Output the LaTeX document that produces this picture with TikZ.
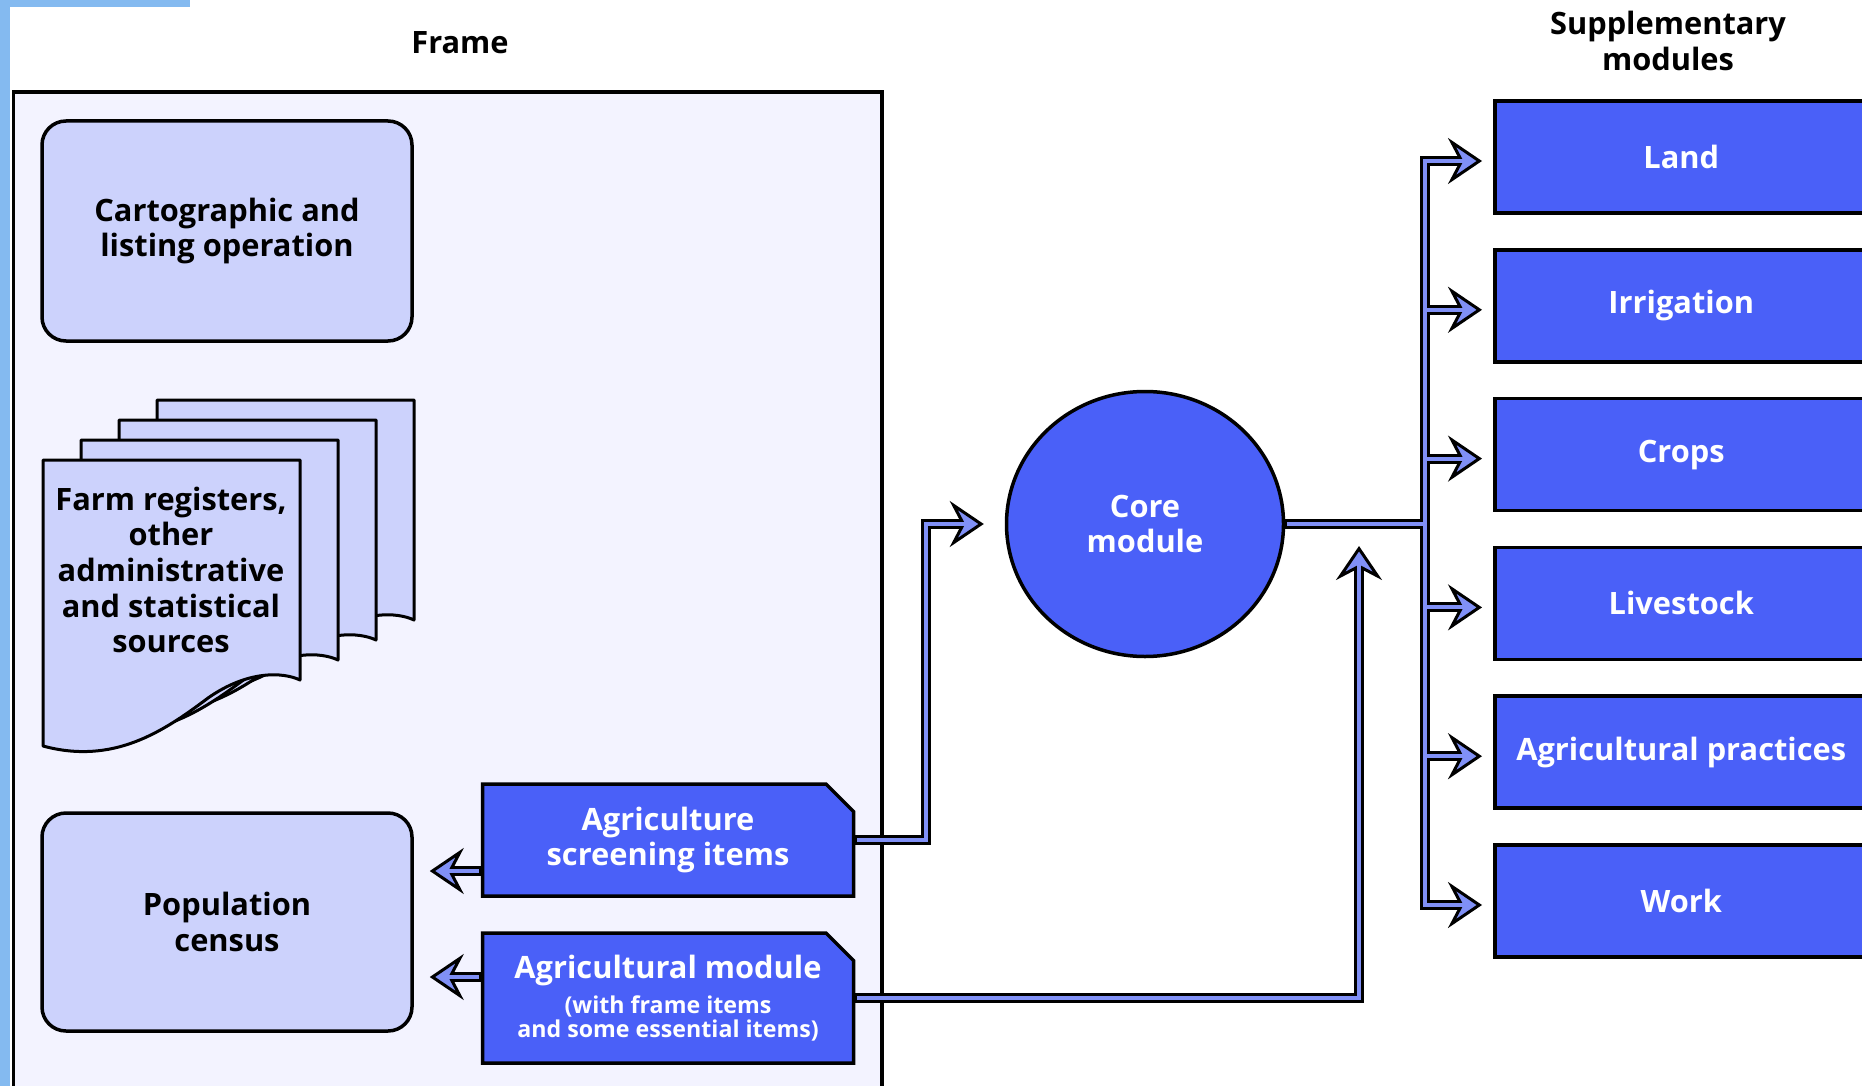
\documentclass[tikz,border=0pt]{standalone}
\usepackage{fontspec}
\setmainfont{Open Sans}
\usetikzlibrary{positioning,calc,shapes.geometric,shapes.misc,arrows.meta}

\definecolor{framebg}{RGB}{243,243,255}
\definecolor{paleblue}{RGB}{204,210,252}
\definecolor{boxblue}{RGB}{74,96,248}
\definecolor{pipeblue}{RGB}{128,144,246}
\definecolor{edgeblue}{RGB}{132,186,240}

\newcommand{\smalltxt}{\fontsize{23.2}{24}\selectfont}

\tikzset{
  lbl/.style={font=\fontsize{30.8}{35.6}\selectfont\bfseries, align=center},
  softbox/.style={lbl, draw=black, line width=3.5pt, fill=paleblue, rounded corners=24pt, minimum width=370pt, minimum height=220pt},
  tabbox/.style={lbl, text=white, draw=black, line width=3.5pt, fill=boxblue, chamfered rectangle, chamfered rectangle corners=north east, chamfered rectangle xsep=13.5pt, chamfered rectangle ysep=14pt, minimum width=371pt, minimum height=112pt},
  modbox/.style={lbl, text=white, draw=black, line width=3.5pt, fill=boxblue, minimum width=373pt, minimum height=112pt},
  page/.style={draw=black, line width=3pt, fill=paleblue, line join=round},
  headed/.style={-{Stealth[length=34pt, width=46pt, inset=12pt, line width=3pt, fill=pipeblue]}},
  pipeout/.style={draw=black, line width=10pt, arrowed/.style={headed}, openend/.style={}},
  pipein/.style={draw=pipeblue, line width=4pt, arrowed/.style={shorten >=14pt}, openend/.style={shorten <=1.75pt}}
}

\begin{document}
\begin{tikzpicture}[x=1pt, y=-1pt]
    \useasboundingbox (0,0) rectangle (1862,1086);
    \clip (0,0) rectangle (1862,1086);
    % screen edge
    \fill[edgeblue] (0,0) rectangle (10,1086);
    \fill[edgeblue] (0,0) rectangle (190,7);
    % frame
    \draw[line width=3.5pt, fill=framebg] (13.5,92) rectangle (882,1110);
    \node[lbl] (framelbl) at (460,43) {Frame};
    \node[lbl] (supplbl) at (1668,41) {Supplementary\\modules};

    \node[softbox] (carto) at (227,231) {Cartographic and\\listing operation};
    \node[softbox, minimum height=218pt] (census) at (227,922) {Population\\census};

    % registers
    \foreach \s in {3,2,1,0}
        \draw[page, shift={(43+38*\s,460-20*\s)}] (0,0) -- (257,0) -- (257,220)
            .. controls (240,212) and (205,210) .. (165,238)
            .. controls (120,272) and (70,305) .. (0,286) -- cycle;
    \node[lbl] (regs) at (171,570) {Farm registers,\\other\\administrative\\and statistical\\sources};

    \node[tabbox] (scr) at (668,840) {Agriculture\\screening items};
    \node[tabbox, minimum height=130pt] (mod) at (668,998) {Agricultural module\\\smalltxt(with frame items\\[-11.6pt]\smalltxt and some essential items)};

    \node[ellipse, lbl, text=white, draw=black, line width=3.5pt, fill=boxblue, minimum width=277pt, minimum height=265pt] (core) at (1145,524) {Core\\module};

    % supplementary modules
    \node[modbox, anchor=west] (land) at (1493,157) {Land};
    \node[modbox, below=33.3pt of land] (irr) {Irrigation};
    \node[modbox, below=33.3pt of irr] (crops) {Crops};
    \node[modbox, below=33.3pt of crops] (live) {Livestock};
    \node[modbox, below=33.3pt of live] (prac) {Agricultural practices};
    \node[modbox, below=33.3pt of prac] (work) {Work};

    % pipes
    \coordinate (hub) at (1425,524);
    \coordinate (upTip) at (1359,546);
    \foreach \sty in {pipeout,pipein}{
        \draw[\sty, arrowed, openend] (scr.east) -- ++(71,0) |- ($(core.west)+(-21,0)$);
        \draw[\sty, arrowed, openend] (mod.east) -| (upTip);
        \draw[\sty, arrowed, openend] ($(scr.west)+(0,31)$) -- ($(census.east |- scr.west)+(16,31)$);
        \draw[\sty, arrowed, openend] ($(mod.west)+(0,-21)$) -- ($(census.east |- mod.west)+(16,-21)$);
        \draw[\sty, openend] (core.east) -- (hub);
        \foreach \b in {land,irr,crops,live,prac,work}
            \draw[\sty, arrowed] (hub) |- ($(\b.west)+(-11,4)$);
    }
\end{tikzpicture}
\end{document}
